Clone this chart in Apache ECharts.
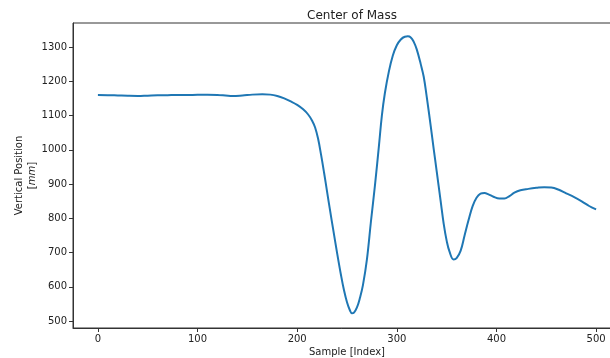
<!DOCTYPE html>
<html>
<head>
<meta charset="utf-8">
<script src="https://cdn.jsdelivr.net/npm/echarts@6/dist/echarts.min.js"></script>
<style>
  html, body { margin: 0; padding: 0; background: #fff; }
  #main { width: 610px; height: 358px; }
</style>
</head>
<body>
<div id="main"></div>
<script>
// sample index (x) and vertical position in mm (y)
var sampleIdx = [0, 10, 20, 30, 40, 50, 60, 70, 80, 90, 100, 110, 120, 128, 135, 145, 155, 165, 173, 180,
  187, 193, 200, 206, 211, 215, 218, 221, 224, 227, 230, 233, 236, 240, 244, 247, 250, 253, 255, 257,
  260, 263, 266, 270, 274, 278, 282, 285, 288, 292, 296, 300, 304, 308, 311, 314, 317, 320, 324, 327,
  330, 334, 337, 340, 344, 347, 350, 353, 357, 360, 364, 368, 372, 376, 380, 384, 388, 392, 397, 403,
  408, 413, 418, 424, 432, 440, 448, 455, 462, 470, 478, 486, 493, 500];
var vertPos = [1160, 1159.5, 1158.5, 1157.5, 1157, 1158, 1159, 1159.5, 1160, 1160, 1160.5, 1160.5, 1160, 1158.5, 1157, 1158.5, 1161, 1162, 1161, 1157,
  1150, 1142, 1131, 1118, 1103, 1085, 1065, 1032, 985, 933, 878, 823, 770, 700, 634, 590, 555, 531, 523, 525,
  540, 568, 605, 680, 790, 895, 1010, 1100, 1165, 1228, 1275, 1305, 1322, 1330, 1331, 1328, 1315, 1293, 1250, 1213,
  1155, 1070, 1003, 938, 850, 785, 735, 702, 680, 684, 705, 750, 795, 835, 860, 872, 874, 870, 863, 858,
  858, 865, 875, 882, 886, 889, 891, 890, 884, 873, 862, 849, 836, 826];

var xTicks = [0, 100, 200, 300, 400, 500];
var yTicks = [500, 600, 700, 800, 900, 1000, 1100, 1200, 1300];

var seriesData = sampleIdx.map(function (x, i) { return [x, vertPos[i]]; });

var myChart = echarts.init(document.getElementById('main'));
var font = 'DejaVu Sans';
var axisStyle = {
  axisLine: { show: true, onZero: false, lineStyle: { color: '#333', width: 1 } },
  splitLine: { show: false }
};

var option = {
  animation: false,
  title: {
    text: 'Center of Mass',
    left: 347,
    top: 5,
    textAlign: 'center',
    textStyle: { fontFamily: font, fontSize: 12, fontWeight: 'normal', color: '#222' }
  },
  grid: {
    left: 73,
    top: 23,
    right: -11,
    bottom: 30,
    containLabel: false,
    outerBoundsMode: 'none',
    show: true,
    borderColor: '#333',
    borderWidth: 1
  },
  xAxis: Object.assign({
    type: 'value',
    min: -25,
    max: 525,
    name: 'Sample [Index]',
    nameLocation: 'middle',
    nameGap: 19,
    nameMoveOverlap: false,
    nameTextStyle: { fontFamily: font, fontSize: 10, color: '#222' },
    axisTick: { show: true, length: 4, customValues: xTicks, lineStyle: { color: '#333' } },
    axisLabel: { customValues: xTicks, fontFamily: font, fontSize: 10, color: '#222', margin: 6,
      formatter: function (v) { return String(v); } }
  }, axisStyle),
  yAxis: Object.assign({
    type: 'value',
    min: 480,
    max: 1370,
    name: 'Vertical Position\n[{i|mm}]',
    nameLocation: 'middle',
    nameRotate: 90,
    nameGap: 34,
    nameMoveOverlap: false,
    nameTextStyle: {
      fontFamily: font, fontSize: 10, color: '#222', lineHeight: 13,
      rich: { i: { fontFamily: font, fontSize: 10, fontStyle: 'italic', color: '#222' } }
    },
    axisTick: { show: true, length: 4, customValues: yTicks, lineStyle: { color: '#333' } },
    axisLabel: { customValues: yTicks, fontFamily: font, fontSize: 10, color: '#222', margin: 6,
      formatter: function (v) { return String(v); } }
  }, axisStyle),
  series: [
    {
      type: 'line',
      data: seriesData,
      smooth: 0.4,
      showSymbol: false,
      lineStyle: { color: '#1f77b4', width: 2 }
    }
  ]
};

myChart.setOption(option);
</script>
</body>
</html>
